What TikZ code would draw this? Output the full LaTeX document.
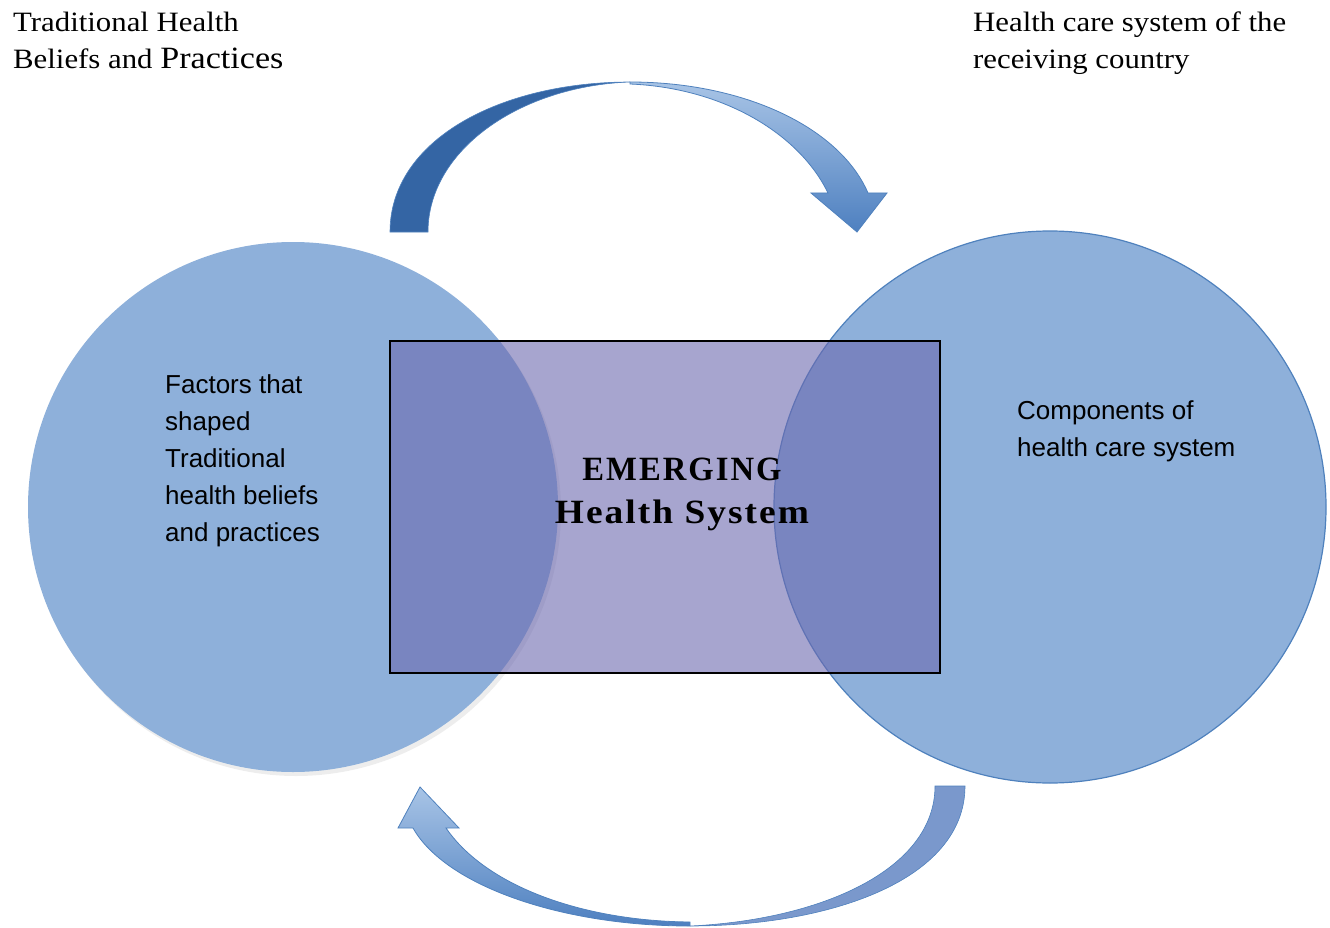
\documentclass[tikz,border=0pt]{standalone}
\usepackage{fontspec}
\setmainfont{Liberation Serif}
\newfontfamily\camb{Liberation Serif}[FakeStretch=1.1]
\newfontfamily\cambb{Liberation Serif}[FakeStretch=1.1,BoldFont={* Bold},LetterSpace=6]
\newfontfamily\cambe{Liberation Serif}[FakeStretch=0.96,BoldFont={* Bold},LetterSpace=6]
\newfontfamily\arl{Liberation Sans}
\definecolor{circfill}{RGB}{142,176,218}
\definecolor{circline}{RGB}{79,129,189}
\definecolor{rectfill}{RGB}{108,105,175}
\definecolor{arrdark}{RGB}{52,101,164}
\definecolor{arrmid}{RGB}{78,128,192}
\definecolor{arrlight}{RGB}{168,196,230}
\definecolor{arrflat}{RGB}{122,152,204}
\tikzset{
  circbox/.style={circle,fill=circfill,inner sep=0pt},
  midbox/.style={rectangle,fill=rectfill,fill opacity=0.6,draw=black,draw opacity=1,line width=1.3pt,inner sep=0pt},
  headtxt/.style={anchor=north west,align=left,inner sep=0pt,font=\camb\fontsize{28}{37}\selectfont},
  sanstxt/.style={anchor=north west,align=left,inner sep=0pt,font=\arl\fontsize{26}{37}\selectfont},
  arrline/.style={draw=circline,line width=0.8pt,line join=miter}
}
\begin{document}
\begin{tikzpicture}[x=1pt,y=-1pt]
\useasboundingbox (0,0) rectangle (1330,928);
% left circle shadow and circle
\fill[gray,opacity=0.14] (296,511) circle (265);
\node[circbox,minimum size=530pt] (lc) at (293,507) {};
% right circle
\node[circbox,minimum size=552pt,draw=circline,line width=1.2pt] (rc) at (1050,507) {};
% central rectangle
\node[midbox,minimum width=550pt,minimum height=332pt] (mid) at (665,507) {};
\node[align=center,inner sep=0pt,font=\bfseries\fontsize{34}{43}\selectfont] (emerg) at (682,494) {{\cambe\bfseries EMERGING}\\{\cambb\bfseries Health System}};
% circle texts
\node[sanstxt] (lt) at (165,374) {Factors that\\shaped\\Traditional\\health beliefs\\and practices};
\node[sanstxt] (rt) at (1017,400) {Components of\\health care system};
% top texts
\node[headtxt] (tl) at (13,12) {Traditional Health\\Beliefs and {\fontsize{31}{37}\selectfont Practices}};
\node[headtxt] (tr) at (973,12) {Health care system of the\\receiving country};
% top arrow: dark back band
\fill[arrdark,draw=circline,line width=0.6pt] (390,232) .. controls (390,140) and (500,82) .. (630,82)
  .. controls (520,86) and (428,150) .. (428,232) -- cycle;
% top arrow: front band with head
\path[arrline,top color=arrlight,bottom color=arrmid] (630,82) .. controls (745,82) and (840,128) .. (868,193)
  -- (887,193) -- (857,232) -- (811,193) -- (828,193)
  .. controls (800,135) and (725,88) .. (630,84) -- cycle;
% bottom arrow: flat back band
\fill[arrflat,draw=circline,line width=0.6pt] (965,786) .. controls (965,880) and (830,926) .. (690,926)
  .. controls (820,920) and (935,870) .. (935,786) -- cycle;
% bottom arrow: front band with head
\path[arrline,top color=arrlight,bottom color=arrmid] (690,926) .. controls (560,926) and (445,885) .. (413,828)
  -- (398,828) -- (420,787) -- (459,828) -- (446,828)
  .. controls (485,885) and (580,921) .. (690,922) -- cycle;
\end{tikzpicture}
\end{document}
